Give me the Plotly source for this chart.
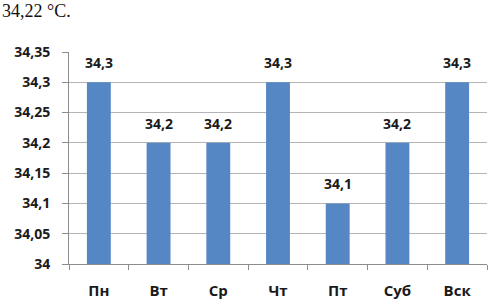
import plotly.graph_objects as go

days = ["Пн", "Вт", "Ср", "Чт", "Пт", "Суб", "Вск"]
temps = [34.3, 34.2, 34.2, 34.3, 34.1, 34.2, 34.3]
tick_vals = [34, 34.05, 34.1, 34.15, 34.2, 34.25, 34.3, 34.35]
tick_text = ["34", "34,05", "34,1", "34,15", "34,2", "34,25", "34,3", "34,35"]
heading = "34,22 °C."

labels = [f"{v:g}".replace(".", ",") for v in temps]

font_b = "Open Sans"
txt_col = "#1a1a1a"

fig = go.Figure(go.Bar(
    x=days, y=temps,
    marker=dict(color="#5587C4", line=dict(width=0)),
    hoverinfo="x+y",
))

for d, v, t in zip(days, temps, labels):
    fig.add_annotation(x=d, y=v, text=t, showarrow=False, yanchor="bottom",
                       yshift=8, font=dict(family=font_b, size=14, color=txt_col, weight="bold"))

fig.add_annotation(text=heading, xref="paper", yref="paper", x=-69/418, y=1 + 53/212,
                   xanchor="left", yanchor="top", showarrow=False,
                   font=dict(family="Liberation Serif", size=18, color="#111"))

fig.update_layout(
    width=502, height=306,
    margin=dict(l=69, r=15, t=52, b=42),
    paper_bgcolor="white", plot_bgcolor="white",
    bargap=0.6,
    showlegend=False,
)
fig.update_yaxes(
    range=[34, 34.35], tickvals=tick_vals, ticktext=tick_text,
    showgrid=True, gridcolor="#b4b4b4", gridwidth=1,
    showline=True, linecolor="#8c8c8c", linewidth=1,
    ticks="outside", ticklen=6, tickcolor="#8c8c8c",
    tickfont=dict(family=font_b, size=14, color=txt_col, weight="bold"),
    ticklabelstandoff=9,
    zeroline=False, automargin=False,
)
fig.update_xaxes(
    showline=True, linecolor="#8c8c8c", linewidth=1,
    ticks="outside", tickson="boundaries", ticklen=5, tickcolor="#8c8c8c",
    tickfont=dict(family=font_b, size=15, color=txt_col, weight="bold"),
    ticklabelstandoff=13,
    automargin=False,
)

fig.write_html("out.html", config={"displayModeBar": False},
               post_script="document.body.style.margin='0';")
